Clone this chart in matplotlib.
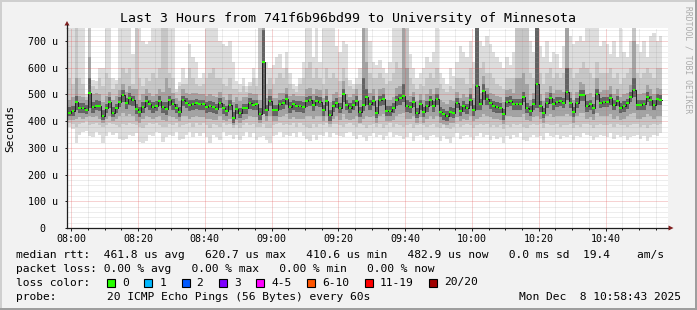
import matplotlib
matplotlib.use("Agg")
import matplotlib.pyplot as plt
import matplotlib.dates as mdates
from matplotlib.ticker import MultipleLocator, FuncFormatter
from matplotlib.patches import Rectangle, Polygon
from matplotlib.lines import Line2D
from datetime import datetime, timedelta
import numpy as np

plt.rcParams['font.family'] = ['DejaVu Sans Mono']
plt.rcParams['lines.scale_dashes'] = False

# time range of the graph (3 hours up to the generation time)
t_end = datetime(2025, 12, 8, 10, 58, 43)
t_start = t_end - timedelta(hours=3)
first_col = datetime(2025, 12, 8, 7, 59, 0)

# median rtt per minute (microseconds)
median = [432,438,473,448,450,442,507,452,458,458,
          420,448,473,432,448,473,498,467,488,479,
          444,435,454,477,463,454,457,477,454,444,
          479,464,450,435,479,469,460,463,467,463,
          463,454,457,452,446,469,448,439,460,413,
          446,432,448,448,467,460,463,427,620,442,
          477,442,442,463,467,482,452,463,457,457,
          454,475,479,460,477,473,442,477,423,457,
          469,450,500,460,450,460,477,435,460,492,
          463,477,432,479,482,439,439,450,479,485,
          494,457,454,473,432,463,435,457,479,458,
          482,435,426,419,435,432,469,439,457,448,
          481,442,532,464,514,482,467,458,454,450,
          427,473,477,464,464,464,492,450,439,464,
          539,457,432,469,487,464,473,475,469,510,
          469,435,469,498,498,457,463,448,502,469,
          473,473,485,460,477,450,457,467,492,517,
          460,460,463,492,479,460,482,481]

# smoke: outer band (slowest / fastest ping)
hi1 = [750,750,750,750,750,500,750,555,550,600,
       600,750,750,560,555,750,750,750,750,650,
       750,750,700,690,700,750,750,750,750,750,
       750,750,520,545,600,560,690,640,620,560,
       580,750,750,750,750,700,690,680,700,620,
       550,540,560,530,545,600,560,750,750,620,
       600,610,640,650,600,660,580,540,530,560,
       620,750,750,640,750,620,750,750,750,750,
       680,660,700,690,555,540,560,600,750,750,
       700,620,610,630,600,580,620,750,750,750,
       750,750,650,600,560,580,600,640,620,660,
       750,580,560,540,600,570,620,680,660,640,
       700,620,750,700,680,720,690,660,640,620,
       600,640,610,660,750,750,750,750,700,660,
       750,680,640,700,620,660,650,600,680,750,
       720,690,700,720,700,750,750,750,750,680,
       700,690,650,700,640,750,660,640,700,750,
       690,660,700,640,720,730,700,720]
lo1 = [380,370,318,350,360,365,345,340,360,350,
       320,345,360,350,355,335,330,332,350,345,
       355,322,318,325,350,345,360,355,322,340,
       350,345,360,330,335,350,360,340,355,345,
       355,340,318,350,340,330,360,345,350,335,
       350,330,345,360,340,355,330,340,345,330,
       320,345,350,360,340,350,345,355,340,360,
       345,335,325,350,330,350,345,360,340,355,
       350,345,340,355,360,345,335,350,340,325,
       345,355,340,350,330,345,360,340,350,345,
       335,340,355,325,345,350,340,330,345,350,
       340,325,345,335,320,340,355,335,345,350,
       340,330,345,355,340,350,330,345,335,340,
       320,345,335,350,340,355,330,325,340,350,
       340,345,330,355,345,340,350,335,345,340,
       350,330,345,340,355,350,345,330,340,350,
       345,340,355,335,350,340,345,330,340,345,
       350,335,345,325,340,350,345,355]

# second band
hi2 = [560,540,750,560,540,490,750,530,520,560,
       530,580,560,520,540,560,600,580,600,540,
       750,560,530,560,550,580,560,600,750,750,
       580,560,510,530,540,540,600,560,540,530,
       540,560,580,600,560,560,540,530,560,520,
       520,510,530,510,530,560,530,750,750,540,
       560,540,560,580,560,600,540,520,510,540,
       560,600,620,560,600,560,540,600,560,580,
       560,550,600,560,530,520,540,540,750,750,
       580,560,560,580,560,540,550,580,620,600,
       750,750,560,540,520,540,530,560,580,560,
       600,540,520,510,530,520,560,560,560,540,
       600,540,750,600,620,580,580,560,540,530,
       520,560,560,560,750,750,750,750,580,560,
       750,580,540,580,600,560,580,560,580,750,
       600,560,580,600,620,600,580,560,620,580,
       580,580,600,560,580,540,560,580,600,750,
       580,560,580,600,580,560,600,600]
lo2 = [395,390,380,390,395,400,385,390,395,385,
       380,385,395,390,385,380,390,385,395,390,
       385,380,375,385,395,390,395,385,380,380,
       390,385,395,380,385,390,395,380,395,385,
       395,385,375,390,385,380,395,385,390,375,
       385,375,385,395,385,390,380,380,390,375,
       375,385,390,395,385,390,385,395,380,395,
       385,380,375,390,380,390,385,395,380,390,
       390,385,380,390,395,385,380,390,385,375,
       385,390,380,390,375,385,395,380,390,385,
       380,385,390,375,385,390,385,380,385,390,
       380,375,385,375,370,380,390,380,385,390,
       385,375,385,390,385,390,380,385,380,385,
       370,385,380,390,385,390,380,375,385,390,
       385,390,375,390,385,385,390,380,385,385,
       390,375,385,380,390,390,385,375,385,390,
       385,385,390,380,390,385,385,380,385,390,
       390,380,385,375,385,390,385,390]

# third band
hi3 = [480,490,560,495,490,480,640,500,505,500,
       470,495,510,480,495,515,540,510,530,520,
       520,480,500,520,505,495,500,520,510,560,
       525,505,485,475,520,505,500,505,505,500,
       500,495,500,495,490,510,490,480,500,470,
       490,475,490,490,505,500,500,480,750,485,
       520,485,485,505,505,525,495,500,495,495,
       495,520,525,500,520,515,485,520,470,500,
       510,490,550,500,490,500,520,480,750,620,
       505,520,480,520,525,480,480,490,525,530,
       750,600,495,510,475,500,480,500,520,500,
       525,480,470,465,480,475,510,485,500,490,
       525,485,750,505,570,525,505,500,495,490,
       470,515,520,505,560,560,580,540,480,505,
       750,500,475,510,530,505,515,515,510,750,
       510,480,510,545,540,500,505,490,560,510,
       515,515,530,500,520,490,500,505,535,700,
       500,500,505,535,520,500,525,520]
lo3 = [405,405,410,415,410,415,420,415,420,410,
       395,410,420,400,410,420,430,420,425,420,
       400,395,410,420,415,410,415,420,405,400,
       420,415,410,400,420,420,410,415,420,415,
       415,410,410,405,405,420,405,400,410,385,
       405,395,405,410,420,415,415,395,430,400,
       420,400,400,415,420,425,410,415,410,410,
       410,420,420,410,420,420,400,420,390,410,
       420,405,425,410,405,410,420,395,410,420,
       415,420,395,420,425,400,400,405,420,425,
       430,410,410,420,395,415,395,410,420,410,
       420,395,390,385,395,395,415,400,410,405,
       420,400,410,415,425,420,415,410,410,405,
       390,420,420,415,415,415,425,405,400,415,
       420,410,395,420,425,415,420,420,420,425,
       420,395,420,430,430,410,415,405,430,420,
       420,420,425,410,420,405,410,420,425,430,
       410,410,415,425,420,410,420,420]

# dark core around the median
hi4 = [452,458,495,468,468,460,560,470,478,476,
       440,466,490,452,466,492,515,486,505,496,
       466,452,472,494,480,472,474,494,472,470,
       496,482,466,452,496,486,478,480,484,480,
       480,472,475,470,464,486,466,456,478,435,
       464,450,466,466,485,478,480,448,740,460,
       494,460,460,480,484,500,470,480,474,474,
       472,492,496,478,494,490,460,494,442,475,
       486,468,520,478,468,478,494,452,560,520,
       480,494,452,496,500,456,456,468,496,502,
       540,480,472,490,450,480,452,475,496,476,
       500,452,444,438,452,450,486,456,474,466,
       500,460,750,482,540,500,484,476,472,468,
       445,490,494,482,482,482,510,468,456,482,
       750,475,450,486,505,482,490,492,486,600,
       486,452,486,515,515,475,480,466,520,486,
       490,490,502,478,494,468,475,484,510,560,
       478,478,480,510,496,478,500,498]
lo4 = [418,420,440,430,432,428,450,432,440,438,
       405,430,450,415,430,452,470,445,460,455,
       425,415,432,452,440,432,438,455,430,422,
       455,442,430,415,455,448,438,442,446,442,
       442,432,436,430,425,448,428,418,440,395,
       425,412,428,428,446,440,442,405,425,420,
       455,420,420,442,446,460,430,442,436,436,
       432,452,456,438,455,452,420,455,400,436,
       448,430,470,440,430,440,455,415,438,460,
       442,455,412,456,460,418,418,430,456,462,
       470,436,432,452,412,442,415,436,456,436,
       460,415,405,400,415,412,448,418,436,428,
       458,420,440,442,480,460,446,436,432,430,
       405,452,455,442,442,442,470,430,418,442,
       450,436,412,448,465,442,452,455,448,480,
       448,415,448,475,475,436,442,428,478,448,
       452,452,462,440,455,430,436,446,470,490,
       440,440,442,470,456,440,460,460]

y_ticks = [0, 100, 200, 300, 400, 500, 600, 700]

legend_rtt = "median rtt:  461.8 us avg   620.7 us max   410.6 us min   482.9 us now   0.0 ms sd  19.4    am/s"
legend_loss = "packet loss: 0.00 % avg   0.00 % max   0.00 % min   0.00 % now"
loss_labels = ["0", "1", "2", "3", "4-5", "6-10", "11-19", "20/20"]
loss_colors = ["#26ff00", "#00b8ff", "#0059ff", "#7e00ff", "#ff00ff", "#ff5500", "#ff0000", "#a00000"]
probe_text = "20 ICMP Echo Pings (56 Bytes) every 60s"
date_text = "Mon Dec  8 10:58:43 2025"
title = "Last 3 Hours from 741f6b96bd99 to University of Minnesota"

W, H = 697, 310
def fx(px):
    return px / W
def fy(py):
    return 1 - py / H

fig = plt.figure(figsize=(W / 100, H / 100), dpi=100, facecolor='#f2f2f2')

# 3d-ish frame like rrdtool
fig.add_artist(Rectangle((0, fy(2)), 1, 2 / H, transform=fig.transFigure, color='#cfcfcf', lw=0))
fig.add_artist(Rectangle((0, 0), 2 / W, 1, transform=fig.transFigure, color='#cfcfcf', lw=0))
fig.add_artist(Rectangle((0, 0), 1, 2 / H, transform=fig.transFigure, color='#9e9e9e', lw=0))
fig.add_artist(Rectangle((1 - 2 / W, 0), 2 / W, 1, transform=fig.transFigure, color='#9e9e9e', lw=0))

ax = fig.add_axes([fx(67), fy(228), fx(668) - fx(67), fy(27.7) - fy(228)])
ax.set_facecolor('white')

n = len(median)
x_left = [first_col + timedelta(minutes=i) for i in range(n)]
x_edges = x_left + [first_col + timedelta(minutes=n)]

def ext(a):
    return list(a) + [a[-1]]

bands = [(lo1, hi1, '#dddddd'), (lo2, hi2, '#c6c6c6'),
         (lo3, hi3, '#a3a3a3'), (lo4, hi4, '#636363')]
for z, (lo, hi, c) in enumerate(bands):
    ax.fill_between(x_edges, ext(lo), ext(hi), step='post', color=c, lw=0, zorder=1 + z * 0.1)

ax.step(x_edges, ext(median), where='post', color='#1f1f1f', lw=0.7, zorder=4)
ax.hlines(median, [t + timedelta(seconds=6) for t in x_left],
          [t + timedelta(seconds=54) for t in x_left],
          colors=loss_colors[0], lw=1.5, zorder=5)

ax.set_xlim(t_start, t_end)
ax.set_ylim(0, 750)

ax.xaxis.set_major_locator(mdates.MinuteLocator(byminute=[0, 20, 40]))
ax.xaxis.set_minor_locator(mdates.MinuteLocator(byminute=range(0, 60, 5)))
ax.xaxis.set_major_formatter(mdates.DateFormatter('%H:%M'))
ax.set_yticks(y_ticks)
ax.yaxis.set_minor_locator(MultipleLocator(20))
ax.yaxis.set_major_formatter(FuncFormatter(lambda v, p: f"{int(v)} u" if v else "0  "))

ax.tick_params(which='both', direction='out', width=0.72, color='#1f1f1f', labelsize=7.2)
ax.tick_params(axis='x', which='major', length=2.2, pad=2.0)
ax.tick_params(axis='x', which='minor', length=1.2)
ax.tick_params(axis='y', which='major', length=1.2, pad=5.6)
ax.tick_params(axis='y', which='minor', length=0)

ax.set_axisbelow(False)
ax.grid(which='minor', color='#8f8f8f', alpha=0.32, lw=0.72, ls=(0, (0.72, 0.72)))
ax.grid(which='major', color='#de4f4f', alpha=0.5, lw=0.72, ls=(0, (0.72, 0.72)))

for s in ['top', 'right']:
    ax.spines[s].set_visible(False)
for s in ['left', 'bottom']:
    ax.spines[s].set_color('#1f1f1f')
    ax.spines[s].set_linewidth(0.9)
    ax.spines[s].set_zorder(6)

# axis extensions and arrows
fig.add_artist(Line2D([fx(67), fx(67)], [fy(27.7), fy(25)], color='#1f1f1f', lw=0.9))
fig.add_artist(Polygon([(fx(64.5), fy(25.5)), (fx(69.5), fy(25.5)), (fx(67), fy(21))],
                       closed=True, transform=fig.transFigure, color='#801f1f', lw=0))
fig.add_artist(Polygon([(fx(668.5), fy(225.5)), (fx(668.5), fy(230.5)), (fx(673.5), fy(228))],
                       closed=True, transform=fig.transFigure, color='#801f1f', lw=0))

fig.text(fx(348), fy(18.5), title, ha='center', va='center', fontsize=9.5)
fig.text(fx(10), fy(128), 'Seconds', rotation=90, ha='center', va='center', fontsize=8)
fig.text(fx(688), fy(60), 'RRDTOOL / TOBI OETIKER', rotation=270, ha='center', va='center',
         fontsize=5.8, color='#ababab')

fs = 8.1
fig.text(fx(16), fy(254.5), legend_rtt, ha='left', va='center', fontsize=fs)
fig.text(fx(16), fy(268.5), legend_loss, ha='left', va='center', fontsize=fs)
fig.text(fx(16), fy(282.5), "loss color:", ha='left', va='center', fontsize=fs)
x = 107.0
for lab, col in zip(loss_labels, loss_colors):
    fig.add_artist(Rectangle((fx(x), fy(286.5)), 8 / W, 8 / H, transform=fig.transFigure,
                             facecolor=col, edgecolor='black', lw=0.8))
    fig.text(fx(x + 15), fy(282.5), lab, ha='left', va='center', fontsize=fs)
    x += 15 + len(lab) * 6.8 + 15.5
fig.text(fx(16), fy(296.5), "probe:", ha='left', va='center', fontsize=fs)
fig.text(fx(107), fy(296.5), probe_text, ha='left', va='center', fontsize=fs)
fig.text(fx(681), fy(296.5), date_text, ha='right', va='center', fontsize=fs)

fig.savefig('out.png', dpi=100, facecolor=fig.get_facecolor())
